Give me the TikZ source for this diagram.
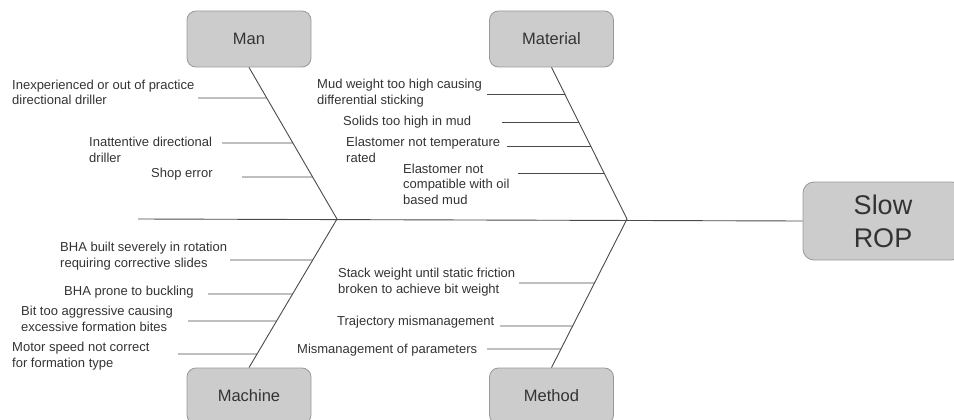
\documentclass[tikz,border=0pt]{standalone}
\usepackage{fontspec}
\setmainfont{Liberation Sans}
\definecolor{boxfill}{HTML}{CCCCCC}
\definecolor{boxline}{HTML}{999999}
\definecolor{boneline}{HTML}{4A4A4A}
\definecolor{ink}{HTML}{333333}
\begin{document}
\begin{tikzpicture}[x=1pt,y=-1pt,
  catbox/.style={draw=boxline,fill=boxfill,rounded corners=9pt,line width=0.8pt,
    minimum width=124pt,minimum height=56pt,inner sep=0pt,text=ink,
    font=\fontsize{16.5}{19}\selectfont},
  headbox/.style={draw=boxline,fill=boxfill,rounded corners=11pt,line width=0.8pt,
    minimum width=160pt,minimum height=78pt,inner sep=0pt,text=ink,align=center,
    font=\fontsize{27}{33}\selectfont},
  bone/.style={draw=boneline,line width=0.9pt},
  % anchored at the baseline of the last line
  cause/.style={anchor=base west,align=left,inner sep=0pt,text=ink,
    font=\fontsize{13}{15.5}\selectfont}]
\useasboundingbox (0,0) rectangle (954,420);

% head and category boxes
\node[headbox] (head) at (883,221) {Slow\\ROP};
\node[catbox] (man) at (249,39) {Man};
\node[catbox] (material) at (551.5,39) {Material};
\node[catbox] (machine) at (249,396) {Machine};
\node[catbox] (method) at (551.5,396) {Method};

% spine and junctions
\coordinate (tail) at (138,219);
\coordinate (j1) at (337,219);
\coordinate (j2) at (627,219);
\draw[bone] (tail) -- (head.west);
\draw[bone] (man.south) -- (j1);
\draw[bone] (material.south) -- (j2);
\draw[bone] (machine.north) -- (j1);
\draw[bone] (method.north) -- (j2);

% Man causes
\draw[bone] (intersection of man.south--j1 and 0,98--10,98) -- (198,98);
\draw[bone] (intersection of man.south--j1 and 0,143--10,143) -- (222,143);
\draw[bone] (intersection of man.south--j1 and 0,177--10,177) -- (242,177);
\node[cause] (c1) at (12,105) {Inexperienced or out of practice\\directional driller};
\node[cause] (c2) at (89,162) {Inattentive directional\\driller};
\node[cause] (c3) at (151,177) {Shop error};

% Material causes
\draw[bone] (intersection of material.south--j2 and 0,94--10,94) -- (487,94);
\draw[bone] (intersection of material.south--j2 and 0,122--10,122) -- (502,122);
\draw[bone] (intersection of material.south--j2 and 0,146--10,146) -- (507,146);
\draw[bone] (intersection of material.south--j2 and 0,173--10,173) -- (518,173);
\node[cause] (c4) at (317,104) {Mud weight too high causing\\differential sticking};
\node[cause] (c5) at (343,125) {Solids too high in mud};
\node[cause] (c6) at (346,162) {Elastomer not temperature\\rated};
\node[cause] (c7) at (403,204) {Elastomer not\\compatible with oil\\based mud};

% Machine causes
\draw[bone] (intersection of machine.north--j1 and 0,260--10,260) -- (230,260);
\draw[bone] (intersection of machine.north--j1 and 0,294--10,294) -- (208,294);
\draw[bone] (intersection of machine.north--j1 and 0,321--10,321) -- (188,321);
\draw[bone] (intersection of machine.north--j1 and 0,354--10,354) -- (178,354);
\node[cause] (c8) at (60,267) {BHA built severely in rotation\\requiring corrective slides};
\node[cause] (c9) at (64,295) {BHA prone to buckling};
\node[cause] (c10) at (21,331) {Bit too aggressive causing\\excessive formation bites};
\node[cause] (c11) at (12,367) {Motor speed not correct\\for formation type};

% Method causes
\draw[bone] (intersection of method.north--j2 and 0,283--10,283) -- (519,283);
\draw[bone] (intersection of method.north--j2 and 0,326--10,326) -- (500,326);
\draw[bone] (intersection of method.north--j2 and 0,349--10,349) -- (487,349);
\node[cause] (c12) at (338,293) {Stack weight until static friction\\broken to achieve bit weight};
\node[cause] (c13) at (337,325) {Trajectory mismanagement};
\node[cause] (c14) at (297,353) {Mismanagement of parameters};
\end{tikzpicture}
\end{document}
